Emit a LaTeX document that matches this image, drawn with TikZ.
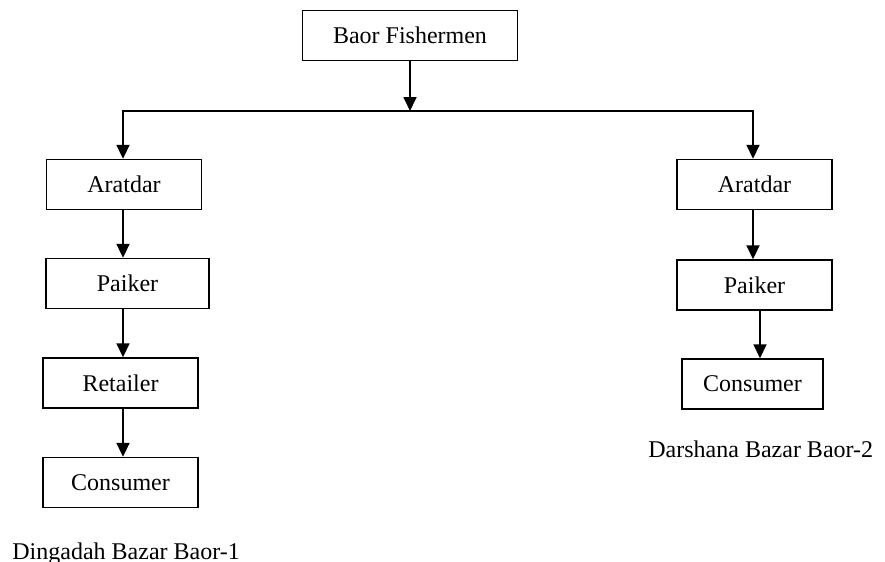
\documentclass[tikz,border=0pt]{standalone}
\usepackage{fontspec}
\setmainfont{Liberation Serif}
\usetikzlibrary{arrows.meta}

\begin{document}
\begin{tikzpicture}[x=0.5pt, y=-0.5pt,
    stage/.style={draw, line width=0.7pt, minimum width=77.5pt, minimum height=25pt,
      inner sep=0pt, font=\fontsize{12}{14}\selectfont},
    flow/.style={line width=0.9pt, -{Triangle[width=6.5pt, length=7pt]}}]
  \useasboundingbox (0, 0) rectangle (885, 562);

  \node [stage, minimum width=107.5pt] (fish) at (410, 35.5) {Baor Fishermen};

  % Dingadah side
  \node [stage] (aratL) at (124, 184.5) {Aratdar};
  \node [stage, minimum width=81.5pt] (paikL) at (127.5, 283.5) {Paiker};
  \node [stage] (retL) at (120.5, 383) {Retailer};
  \node [stage] (consL) at (120.5, 482.5) {Consumer};

  % Darshana side
  \node [stage] (aratR) at (754.5, 184.5) {Aratdar};
  \node [stage] (paikR) at (754.5, 285) {Paiker};
  \node [stage, minimum width=70.5pt] (consR) at (752.5, 384) {Consumer};

  \coordinate (colL) at (123, 0);
  \coordinate (colR) at (753, 0);
  \coordinate (split) at (410, 111);
  \draw [flow] (fish.south) -- (split);
  \draw [flow] (split) -| (aratL.north -| colL);
  \draw [flow] (split) -| (aratR.north -| colR);

  \foreach \A/\B in {aratL/paikL, paikL/retL, retL/consL} {
    \draw [flow] (\A.south -| colL) -- (\B.north -| colL);
  }
  \draw [flow] (aratR.south -| colR) -- (paikR.north -| colR);
  \draw [flow] ([xshift=3.5pt]paikR.south -| colR) -- ([xshift=3.5pt]consR.north -| colR);

  \node [anchor=base west, inner sep=0pt, font=\fontsize{12}{14}\selectfont] (labL) at (12, 559) {Dingadah Bazar Baor-1};
  \node [anchor=base west, inner sep=0pt, font=\fontsize{12}{14}\selectfont] (labR) at (648, 457) {Darshana Bazar Baor-2};
\end{tikzpicture}
\end{document}
